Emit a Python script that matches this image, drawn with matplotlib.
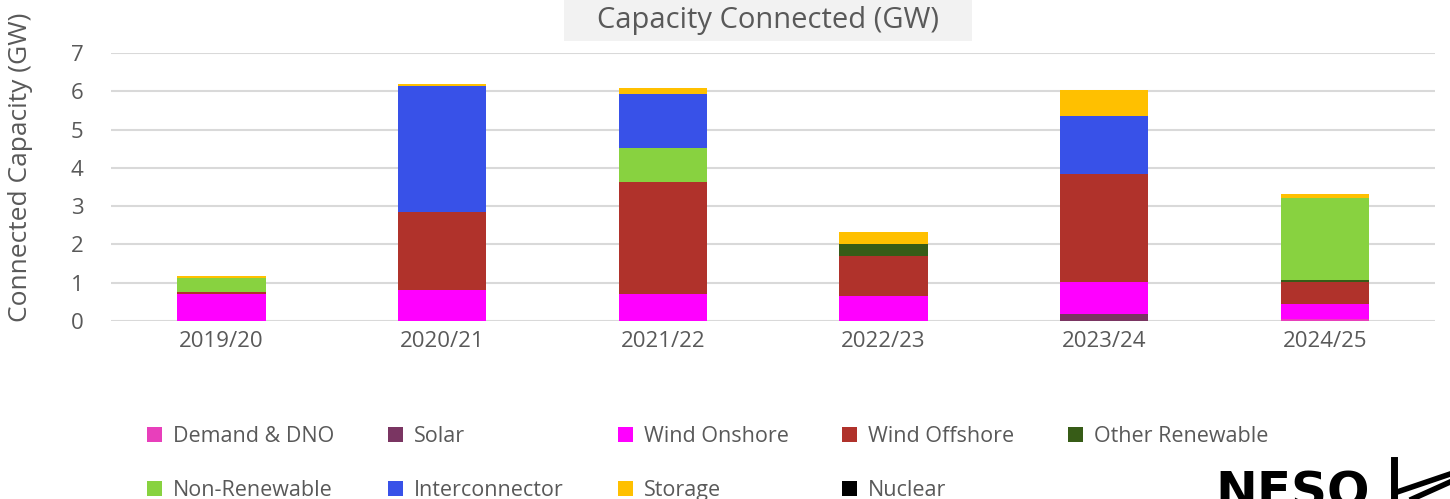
import numpy as np
import matplotlib
matplotlib.use("Agg")
import matplotlib.pyplot as plt
from matplotlib.patches import Patch, Rectangle
from matplotlib.lines import Line2D

plt.rcParams["font.family"] = ["Open Sans", "DejaVu Sans"]

years = ["2019/20", "2020/21", "2021/22", "2022/23", "2023/24", "2024/25"]

# capacity connected per technology (GW), stacked bottom to top
demand_dno = [0.00, 0.00, 0.00, 0.00, 0.00, 0.05]
solar = [0.00, 0.00, 0.00, 0.00, 0.18, 0.00]
wind_onshore = [0.71, 0.81, 0.70, 0.65, 0.84, 0.39]
wind_offshore = [0.05, 2.04, 2.93, 1.05, 2.82, 0.58]
other_renewable = [0.00, 0.00, 0.00, 0.31, 0.00, 0.05]
non_renewable = [0.36, 0.00, 0.89, 0.00, 0.00, 2.14]
interconnector = [0.00, 3.29, 1.41, 0.00, 1.51, 0.00]
storage = [0.05, 0.05, 0.15, 0.31, 0.68, 0.11]
nuclear = [0.00, 0.00, 0.00, 0.00, 0.00, 0.00]

series = [
    ("Demand & DNO", demand_dno, "#e83fbb"),
    ("Solar", solar, "#7a3562"),
    ("Wind Onshore", wind_onshore, "#ff00ff"),
    ("Wind Offshore", wind_offshore, "#b0322b"),
    ("Other Renewable", other_renewable, "#375c17"),
    ("Non-Renewable", non_renewable, "#88d240"),
    ("Interconnector", interconnector, "#3851e8"),
    ("Storage", storage, "#ffc000"),
    ("Nuclear", nuclear, "#000000"),
]

txt = "#595959"

fig = plt.figure(figsize=(14.5, 4.99), dpi=100)
ax = fig.add_axes([0.0766, 0.3567, 0.9131, 0.5371])

x = np.arange(len(years))
bottom = np.zeros(len(years))
handles = []
for name, vals, col in series:
    vals = np.array(vals)
    ax.bar(x, vals, 0.4, bottom=bottom, color=col, zorder=3)
    bottom += vals
    handles.append(Patch(facecolor=col, label=name))

ax.set_xlim(-0.5, len(years) - 0.5)
ax.set_ylim(0, 7)
ax.set_yticks(range(0, 8))
ax.set_xticks(x)
ax.set_xticklabels(years)
ax.tick_params(length=0, labelsize=16, colors=txt)
ax.tick_params(axis="x", pad=7)
ax.tick_params(axis="y", pad=20)
for s in ax.spines.values():
    s.set_visible(False)
ax.yaxis.grid(True, color="#d9d9d9", linewidth=1.5, zorder=0)

fig.text(0.014, 0.665, "Connected Capacity (GW)", rotation=90, ha="center",
         va="center", fontsize=19, color=txt)

# title sits on a light grey box
fig.add_artist(Rectangle((0.389, 0.918), 0.2814, 0.082, transform=fig.transFigure,
                         facecolor="#f2f2f2", edgecolor="none", zorder=0))
fig.text(0.5297, 0.958, "Capacity Connected (GW)", ha="center", va="center",
         fontsize=21, color=txt)

# legend fills by column, so reorder to read row by row
order = [0, 5, 1, 6, 2, 7, 3, 8, 4]
fig.legend([handles[i] for i in order], [handles[i].get_label() for i in order],
           ncol=5, loc="upper left", bbox_to_anchor=(0.0883, 0.1844),
           frameon=False, fontsize=15.5, labelcolor=txt,
           handlelength=0.7, handleheight=0.7, handletextpad=0.5,
           columnspacing=2.5, labelspacing=1.5)

# logo, cut by the bottom edge as in the original
fig.text(0.838, -0.018, "NESO", fontsize=36, fontweight="bold", color="black",
         family="DejaVu Sans", ha="left", va="baseline")
fig.add_artist(Line2D([0.9611, 0.9611], [0.0, 0.078], color="black", lw=5,
                      transform=fig.transFigure))
fig.add_artist(Line2D([0.9635, 1.0], [0.014, 0.05], color="black", lw=4,
                      transform=fig.transFigure))
fig.add_artist(Line2D([0.974, 1.0], [0.0, 0.034], color="black", lw=4,
                      transform=fig.transFigure))

fig.savefig("out.png", dpi=100)
